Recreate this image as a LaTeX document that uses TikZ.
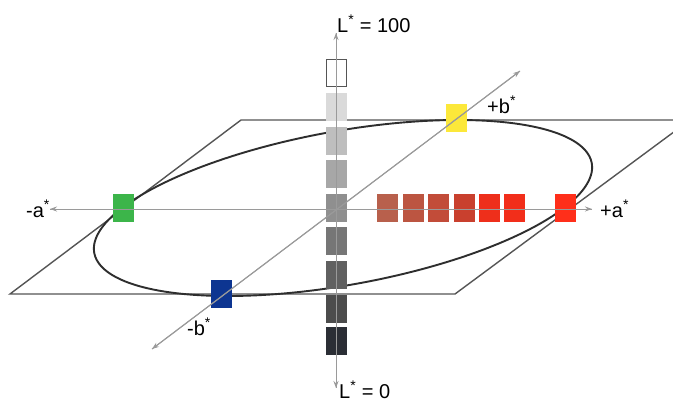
\documentclass[tikz,border=0pt]{standalone}
\usepackage{fontspec}
\setmainfont{Liberation Sans}
\usetikzlibrary{arrows.meta}
\definecolor{g1}{HTML}{DADADA}
\definecolor{g2}{HTML}{BEBEBE}
\definecolor{g3}{HTML}{A7A7A7}
\definecolor{g4}{HTML}{8F8F8F}
\definecolor{g5}{HTML}{767676}
\definecolor{g6}{HTML}{606060}
\definecolor{g7}{HTML}{4C4C4C}
\definecolor{g8}{HTML}{2B2E35}
\definecolor{r1}{HTML}{B8604C}
\definecolor{r2}{HTML}{BC5541}
\definecolor{r3}{HTML}{C24C39}
\definecolor{r4}{HTML}{C9402E}
\definecolor{r5}{HTML}{EE2F1B}
\definecolor{r6}{HTML}{F22E1A}
\definecolor{r7}{HTML}{FF2F1A}
\definecolor{cgreen}{HTML}{3CB54A}
\definecolor{cyellow}{HTML}{FCE83A}
\definecolor{cblue}{HTML}{0D3591}
\definecolor{axisgray}{HTML}{9A9A9A}
\definecolor{planegray}{HTML}{555555}
\definecolor{ringgray}{HTML}{2E2E2E}
\begin{document}
\begin{tikzpicture}[x=1pt,y=-1pt,
  sq/.style={minimum width=21pt,minimum height=28pt,inner sep=0pt,draw=none},
  axisline/.style={draw=axisgray,line width=1pt,-{Stealth[length=7pt,width=5pt]}},
  lbl/.style={font=\fontsize{20}{24}\selectfont,inner sep=0pt,anchor=base west},
  plane/.style={draw=planegray,line width=1.4pt,line join=miter},
  ring/.style={draw=ringgray,line width=1.9pt}]
\clip (0,0) rectangle (673,402);
\fill[white] (0,0) rectangle (673,402);
% plane
\draw[plane] (10,294) -- (241,120) -- (690,120) -- (455,294) -- cycle;
% ellipse
\draw[ring] plot[domain=0:358,samples=180,smooth cycle,variable=\t]
  ({343+221*cos(\t)+115*sin(\t)},{208-88*sin(\t)});
% gray column
\node[sq,draw=planegray,line width=1pt,fill=white,minimum width=20pt,minimum height=27pt] (w0) at (336.5,73) {};
\node[sq,fill=g1] (s1) at (336.5,107) {};
\node[sq,fill=g2] (s2) at (336.5,140.5) {};
\node[sq,fill=g3] (s3) at (336.5,173.5) {};
\node[sq,fill=g4] (s4) at (336.5,207.5) {};
\node[sq,fill=g5] (s5) at (336.5,241) {};
\node[sq,fill=g6] (s6) at (336.5,274.5) {};
\node[sq,fill=g7] (s7) at (336.5,308.5) {};
\node[sq,fill=g8] (s8) at (336.5,341) {};
% red row
\node[sq,fill=r1] (ra) at (387.2,207.5) {};
\node[sq,fill=r2] (rb) at (413,207.5) {};
\node[sq,fill=r3] (rc) at (438.8,207.5) {};
\node[sq,fill=r4] (rd) at (464.2,207.5) {};
\node[sq,fill=r5] (re) at (489.2,207.5) {};
\node[sq,fill=r6] (rf) at (514.5,207.5) {};
\node[sq,fill=r7] (rg) at (565.5,207.5) {};
% other colours
\node[sq,fill=cgreen] (green) at (123,207.5) {};
\node[sq,fill=cyellow] (yellow) at (456.5,117.5) {};
\node[sq,fill=cblue] (blue) at (221.5,293.5) {};
% axes
\coordinate (Ltop) at (336,33);
\coordinate (Lbot) at (336,388);
\coordinate (aneg) at (50,209);
\coordinate (apos) at (592,209);
\coordinate (bneg) at (152,349);
\coordinate (bpos) at (520,71);
\draw[axisline] (Lbot) -- (Ltop);
\draw[axisline] (Ltop) -- (Lbot);
\draw[axisline] (apos) -- (aneg);
\draw[axisline] (aneg) -- (apos);
\draw[axisline] (bneg) -- (bpos);
\draw[axisline] (bpos) -- (bneg);
% labels
\node[lbl] (tL100) at (337,32) {L\textsuperscript{*} = 100};
\node[lbl] (tL0) at (339,398) {L\textsuperscript{*} = 0};
\node[lbl] (tan) at (26,217) {-a\textsuperscript{*}};
\node[lbl] (tap) at (600,217) {+a\textsuperscript{*}};
\node[lbl] (tbp) at (487,113) {+b\textsuperscript{*}};
\node[lbl] (tbn) at (187,335) {-b\textsuperscript{*}};
\end{tikzpicture}
\end{document}
